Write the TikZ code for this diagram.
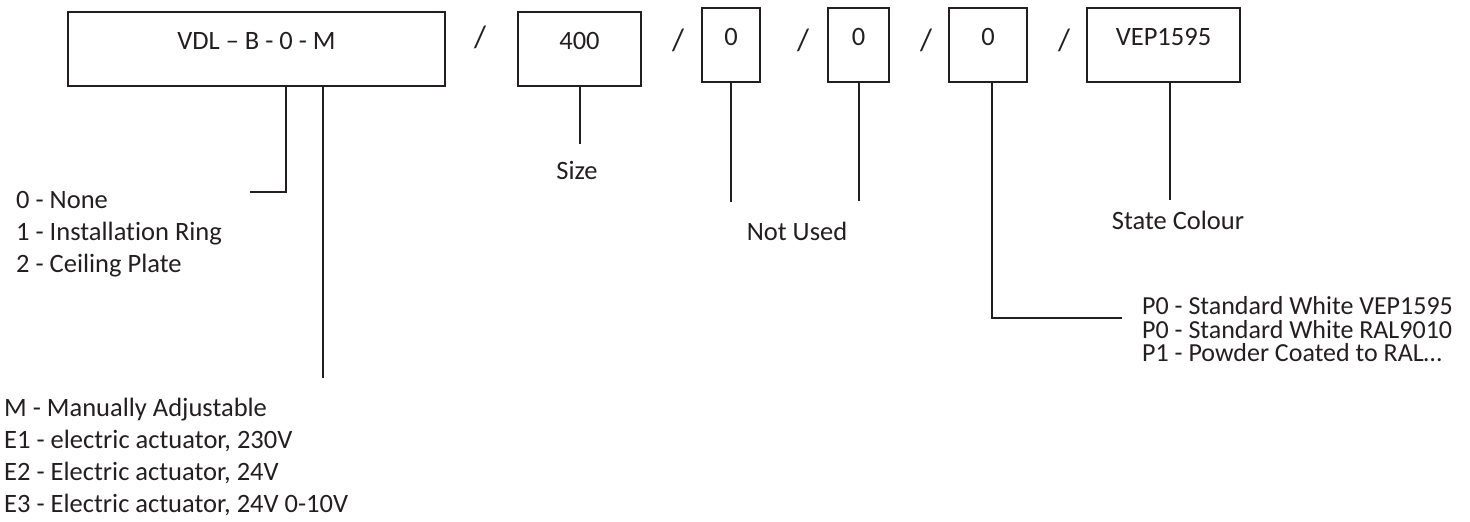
\documentclass[tikz,border=0pt]{standalone}
\usepackage{fontspec}
\setmainfont{Carlito}[Ligatures=NoCommon]
\definecolor{ink}{HTML}{231F20}
\tikzset{
  codebox/.style={draw=ink, line width=2pt, inner sep=0pt, text height=37pt, text depth=37pt, text=ink},
  lbl/.style={inner sep=0pt, text height=15pt, text depth=0pt, text=ink},
  lead/.style={draw=ink, line width=2pt},
}
\begin{document}
\begin{tikzpicture}[x=1pt, y=-1pt, font=\fontsize{26.5}{30}\selectfont]
  \useasboundingbox (0,0) rectangle (1470,522);
  % code boxes
  \node[codebox, minimum width=377pt] (series) at (256.5,49) {VDL – B - 0 - M};
  \node[codebox, minimum width=123pt] (size) at (579.5,49) {400};
  \node[codebox, minimum width=58pt] (unusedA) at (731,45) {0};
  \node[codebox, minimum width=61pt] (unusedB) at (858.5,45) {0};
  \node[codebox, minimum width=78pt] (finish) at (988,45) {0};
  \node[codebox, minimum width=153pt] (colour) at (1163.5,45) {VEP1595};
  % separators
  \foreach \x/\y [count=\i] in {480/40, 678/43, 803/43, 926/43, 1064/43}
    \node[lbl, font=\fontsize{31}{31}\selectfont] (sep\i) at (\x,\y) {/};
  % labels
  \node[lbl] (sizeLbl) at (577,172) {Size};
  \node[lbl] (unusedLbl) at (797,233) {Not Used};
  \node[lbl] (colourLbl) at (1178,222) {State Colour};
  \foreach \t [count=\i] in {0 - None, 1 - Installation Ring, 2 - Ceiling Plate}
    \node[lbl, anchor=west] (fit\i) at (16, 169+32*\i) {\t};
  \foreach \t [count=\i] in {M - Manually Adjustable, {E1 - electric actuator, 230V}, {E2 - Electric actuator, 24V}, {E3 - Electric actuator, 24V 0-10V}}
    \node[lbl, anchor=west] (drive\i) at (4, 377+32*\i) {\t};
  \foreach \t [count=\i] in {P0 - Standard White VEP1595, P0 - Standard White RAL9010, {P1 - Powder Coated to RAL\dots}}
    \node[lbl, anchor=west, font=\fontsize{26}{28}\selectfont] (paint\i) at (1142, 283.5+23.5*\i) {\t};
  % leader lines
  \coordinate (fitBend) at (286,192);
  \coordinate (fitEnd) at (250,192);
  \coordinate (driveEnd) at (323,378);
  \coordinate (sizeEnd) at (579.5,144);
  \coordinate (unusedAEnd) at (731,202);
  \coordinate (unusedBEnd) at (858.5,201);
  \coordinate (finishBend) at (992,318);
  \coordinate (finishEnd) at (1122,318);
  \coordinate (colourEnd) at (1170,200);
  \draw[lead] (series.south -| fitBend) -- (fitBend) -- (fitEnd);
  \draw[lead] (series.south -| driveEnd) -- (driveEnd);
  \draw[lead] (size) -- (sizeEnd);
  \draw[lead] (unusedA) -- (unusedAEnd);
  \draw[lead] (unusedB) -- (unusedBEnd);
  \draw[lead] (finish.south -| finishBend) -- (finishBend) -- (finishEnd);
  \draw[lead] (colour.south -| colourEnd) -- (colourEnd);
\end{tikzpicture}
\end{document}
